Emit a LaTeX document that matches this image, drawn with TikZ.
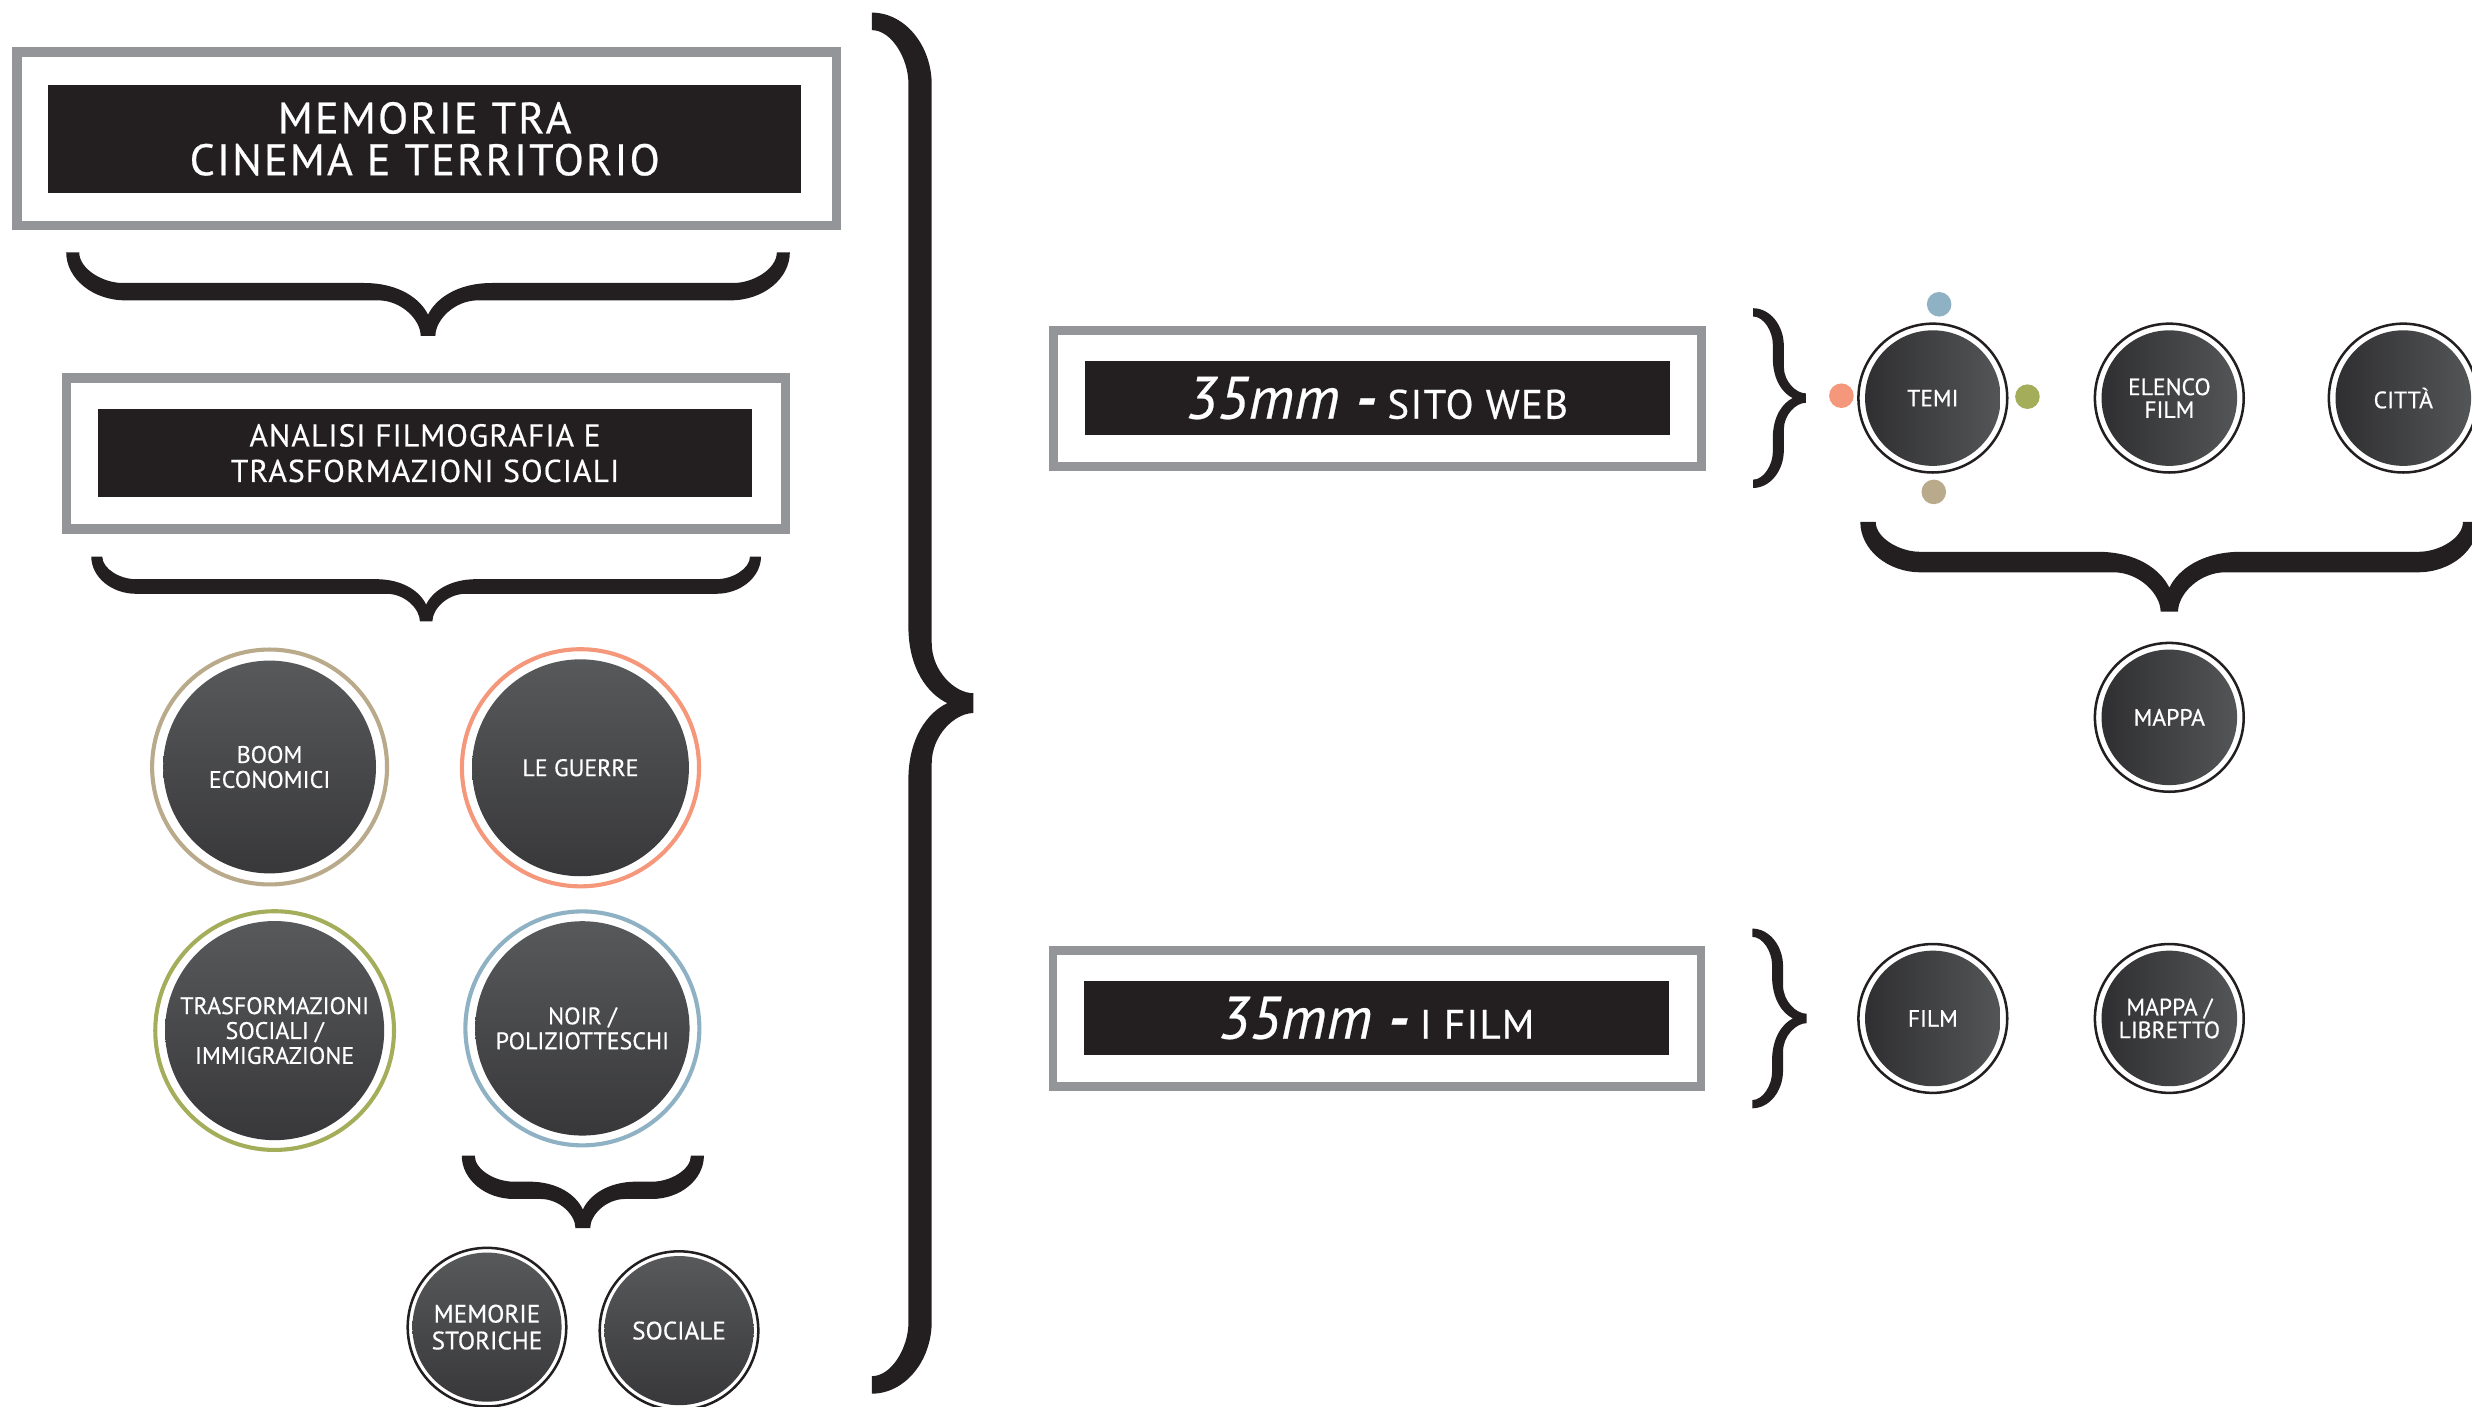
\documentclass[tikz,border=0pt]{standalone}
\usepackage{fontspec}
\setmainfont{PT Sans}
\definecolor{framegray}{HTML}{939598}
\definecolor{inkblack}{HTML}{231F20}
\definecolor{ringtan}{HTML}{B8AA8A}
\definecolor{ringorange}{HTML}{F4977A}
\definecolor{ringgreen}{HTML}{A3AD5A}
\definecolor{ringblue}{HTML}{8FB1C4}
\definecolor{discA}{HTML}{58595B}
\definecolor{discB}{HTML}{38383A}
\definecolor{discL}{HTML}{2F2F31}
\definecolor{discR}{HTML}{545557}
\tikzset{
  pics/curlybrace/.style n args={4}{code={
    \pgfmathsetmacro\brH{#1}%
    \pgfmathsetmacro\brD{#2}%
    \pgfmathsetmacro\brC{#3}%
    \pgfmathsetmacro\brT{#4}%
    \pgfmathsetmacro\brA{\brC-\brT/2}%
    \pgfmathsetmacro\brB{\brC+\brT/2}%
    \pgfmathsetmacro\brE{0.75*\brT}%
    \pgfmathsetmacro\brTT{0.425*\brT}%
    \pgfmathsetmacro\brM{1.2*(\brD-\brB)+\brTT}%
    \pgfmathsetmacro\brMM{1.6*(\brD-\brB)+\brTT}%
    \pgfmathsetmacro\brK{\brH-1.5*\brC}%
    \pgfmathsetmacro\brKI{\brH-\brE-1.1*\brC}%
    \pgfmathsetmacro\brX{\brA+0.6*(\brD-\brA)}%
    \fill[inkblack] (0,\brH) .. controls ({0.55*\brB},\brH) and (\brB,{\brH-0.45*(\brH-\brK)}) .. (\brB,\brK)
      -- (\brB,\brM) .. controls (\brB,{\brTT+0.45*(\brM-\brTT)}) and ({\brD-0.45*(\brD-\brB)},\brTT) .. (\brD,\brTT)
      -- (\brD,-\brTT) .. controls ({\brD-0.45*(\brD-\brB)},-\brTT) and (\brB,{-\brTT-0.45*(\brM-\brTT)}) .. (\brB,-\brM)
      -- (\brB,-\brK) .. controls (\brB,{-\brH+0.45*(\brH-\brK)}) and ({0.55*\brB},-\brH) .. (0,-\brH)
      -- (0,{-\brH+\brE}) .. controls ({0.55*\brA},{-\brH+\brE}) and (\brA,{-\brKI-0.45*(\brH-\brE-\brKI)}) .. (\brA,-\brKI)
      -- (\brA,-\brMM) .. controls (\brA,{-0.45*\brMM}) and ({\brX-0.5*(\brX-\brA)},{-0.12*\brMM}) .. (\brX,0)
      .. controls ({\brX-0.5*(\brX-\brA)},{0.12*\brMM}) and (\brA,{0.45*\brMM}) .. (\brA,\brMM)
      -- (\brA,\brKI) .. controls (\brA,{\brKI+0.45*(\brH-\brE-\brKI)}) and ({0.55*\brA},{\brH-\brE}) .. (0,{\brH-\brE}) -- cycle;
  }},
  grayframe/.style={draw=framegray, line width=6pt, inner sep=0pt},
  titlebox/.style={fill=inkblack, text=white, align=center, inner sep=0pt},
  ldisc/.style={circle, inner sep=0pt, minimum size=#1, top color=discA, bottom color=discB,
    text=white, align=center, font=\fontsize{15.2}{15.8}\selectfont\addfontfeatures{FakeBold=0.5}},
  rdisc/.style={circle, inner sep=0pt, minimum size=#1, left color=discL, right color=discR,
    text=white, align=center, font=\fontsize{15}{14.5}\selectfont\addfontfeatures{FakeBold=0.5}},
  ring/.style={draw=#1, line width=2.6pt},
  thinring/.style={draw=inkblack, line width=1.6pt},
  dot/.style={circle, fill=#1, inner sep=0pt, minimum size=15.6pt},
}
\begin{document}
\begin{tikzpicture}[x=1pt,y=-1pt]
\useasboundingbox (0,0) rectangle (1568,892);

% ---- left column: title boxes
\node[grayframe, minimum width=519.8pt, minimum height=109.9pt] (f1) at (270.6,88.05) {};
\node[titlebox, minimum width=477.6pt, minimum height=68.4pt,
      font=\fontsize{28}{26.5}\selectfont\addfontfeatures{LetterSpace=5,FakeBold=0.5}] (t1) at (269.4,88.1)
      {MEMORIE TRA\\CINEMA E TERRITORIO};
\pic at (271.5,160) [rotate=-90] {curlybrace={229.5}{53}{25}{11}};

\node[grayframe, minimum width=456pt, minimum height=95.8pt] (f2) at (270.2,287.6) {};
\node[titlebox, minimum width=415.4pt, minimum height=55.5pt,
      font=\fontsize{20}{22.5}\selectfont\addfontfeatures{LetterSpace=3.5,FakeBold=0.5}] (t2) at (269.6,287.45)
      {ANALISI FILMOGRAFIA E\\TRASFORMAZIONI SOCIALI};
\pic at (270.3,353) [rotate=-90] {curlybrace={212.4}{41.2}{19}{9.3}};

% ---- left column: theme discs
\node[ldisc=135pt] (boom) at (171,486.5) {BOOM\\ECONOMICI};
\draw[ring=ringtan] (boom.center) circle[radius=74.5pt];
\node[ldisc=137.6pt] (guerre) at (368.2,487) {LE GUERRE};
\draw[ring=ringorange] (guerre.center) circle[radius=75.2pt];
\node[ldisc=139pt] (trasf) at (174.2,653.7) {TRASFORMAZIONI\\SOCIALI /\\IMMIGRAZIONE};
\draw[ring=ringgreen] (trasf.center) circle[radius=75.7pt];
\node[ldisc=136pt] (noir) at (369.4,652.3) {NOIR /\\POLIZIOTTESCHI};
\draw[ring=ringblue] (noir.center) circle[radius=74.2pt];

\pic at (369.7,733) [rotate=-90] {curlybrace={76.8}{46}{22}{11}};

\node[ldisc=94.6pt, font=\fontsize{16}{17}\selectfont\addfontfeatures{FakeBold=0.5}] (storiche) at (308.9,841.8) {MEMORIE\\STORICHE};
\draw[thinring] (storiche.center) circle[radius=50.3pt];
\node[ldisc=94.6pt, font=\fontsize{16}{17}\selectfont\addfontfeatures{FakeBold=0.5}] (sociale) at (430.7,844) {SOCIALE};
\draw[thinring] (sociale.center) circle[radius=50.3pt];

% ---- big brace
\pic at (553,446) {curlybrace={438}{64.4}{30.6}{14.8}};

% ---- right column: 35mm boxes
\node[grayframe, line width=5.5pt, minimum width=411pt, minimum height=86.3pt] (f3) at (873.75,252.7) {};
\node[titlebox, minimum width=371pt, minimum height=47pt, font=\fontsize{26}{28}\selectfont] (t3) at (873.5,252.5)
  {{\fontsize{38}{40}\selectfont\itshape\addfontfeatures{FakeBold=0.4}35mm \bfseries -} {\addfontfeatures{LetterSpace=3,FakeBold=0.5}SITO WEB}};
\node[grayframe, line width=5.5pt, minimum width=411pt, minimum height=86.3pt] (f4) at (873.5,645.9) {};
\node[titlebox, minimum width=370.6pt, minimum height=46.9pt, font=\fontsize{26}{28}\selectfont] (t4) at (873.1,645.75)
  {{\fontsize{38}{40}\selectfont\itshape\addfontfeatures{FakeBold=0.4}35mm \bfseries -} {\addfontfeatures{LetterSpace=3,FakeBold=0.5}I FILM}};

\pic at (1112,252.5) {curlybrace={57}{33.5}{16}{7}};
\pic at (1111.5,646) {curlybrace={57}{34.5}{16}{7}};

% ---- right column: site discs
\node[rdisc=86pt] (temi) at (1226,252.5) {TEMI};
\draw[thinring] (temi.center) circle[radius=47.2pt];
\node[rdisc=86pt] (elenco) at (1376,252.5) {ELENCO\\FILM};
\draw[thinring] (elenco.center) circle[radius=47.2pt];
\node[rdisc=86pt] (citta) at (1524.4,252.5) {CITTÀ};
\draw[thinring] (citta.center) circle[radius=47.2pt];

\node[dot=ringblue] (dtop) at (1230,193) {};
\node[dot=ringorange] (dleft) at (1168,251) {};
\node[dot=ringgreen] (dright) at (1286,251.6) {};
\node[dot=ringtan] (dbottom) at (1226.6,312) {};

\pic at (1376,331) [rotate=-90] {curlybrace={196}{57}{25.5}{13}};

\node[rdisc=86pt] (mappa) at (1376,455) {MAPPA};
\draw[thinring] (mappa.center) circle[radius=47.2pt];

\node[rdisc=86pt] (film) at (1226,646) {FILM};
\draw[thinring] (film.center) circle[radius=47.2pt];
\node[rdisc=86pt] (libretto) at (1376,646) {MAPPA /\\LIBRETTO};
\draw[thinring] (libretto.center) circle[radius=47.2pt];
\end{tikzpicture}
\end{document}
